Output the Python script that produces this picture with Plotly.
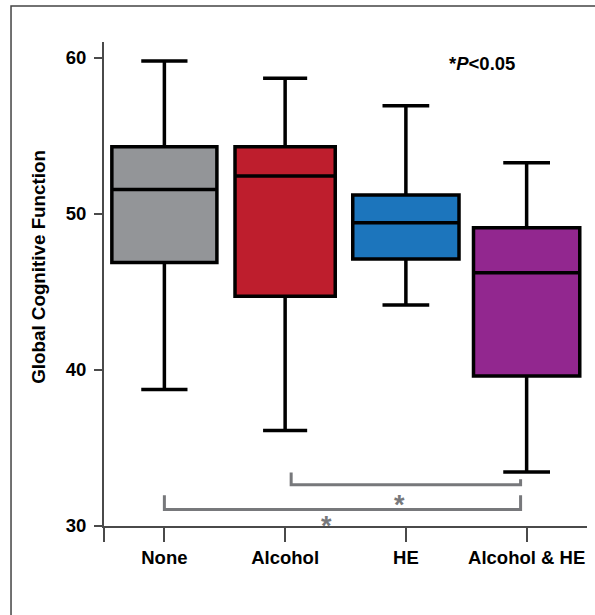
import plotly.graph_objects as go

# ---- data ----
categories = ["None", "Alcohol", "HE", "Alcohol & HE"]
lower_whisker = [38.74, 36.12, 44.15, 33.46]
q1_values = [46.88, 44.72, 47.10, 39.60]
medians = [51.56, 52.42, 49.42, 46.22]
q3_values = [54.29, 54.29, 51.20, 49.10]
upper_whisker = [59.79, 58.68, 56.92, 53.27]
box_colors = ["#939598", "#BE1E2D", "#1C75BC", "#92278F"]
box_widths = [0.87, 0.83, 0.88, 0.88]

y_ticks = [30, 40, 50, 60]

# significance brackets: (left x, right x, left arm top, right arm top, bar y, star x, star y)
brackets = [
    (1.05, 2.95, 33.42, 32.99, 32.65, 1.946, 31.71),
    (0.00, 2.95, 31.97, 31.97, 31.05, 1.344, 30.41),
]

FONT = "Liberation Sans, Arial, sans-serif"
AX = "#4a4a4a"
GREY = "#77787B"

fig = go.Figure()
for i, cat in enumerate(categories):
    fig.add_trace(go.Box(
        x=[i], q1=[q1_values[i]], median=[medians[i]], q3=[q3_values[i]],
        lowerfence=[lower_whisker[i]], upperfence=[upper_whisker[i]],
        name=cat, width=box_widths[i], whiskerwidth=0.44,
        fillcolor=box_colors[i], line=dict(color="#000000", width=3.5),
        boxpoints=False, hoverinfo="skip", showlegend=False,
    ))

shapes = []
annotations = []
for (xl, xr, ytl, ytr, yb, sx, sy) in brackets:
    shapes.append(dict(type="path", xref="x", yref="y",
                       path=f"M {xl},{ytl} L {xl},{yb} L {xr},{yb} L {xr},{ytr}",
                       line=dict(color=GREY, width=3)))
    annotations.append(dict(x=sx, y=sy, xref="x", yref="y", text="<b>*</b>",
                            showarrow=False, xanchor="center", yanchor="middle",
                            yshift=-6,
                            font=dict(family=FONT, size=27, color=GREY)))

# outer frame
shapes.append(dict(type="rect", xref="paper", yref="paper",
                   x0=-0.1925, y0=1.0744, x1=1.03, y1=-0.2,
                   line=dict(color="#444444", width=1.5), layer="below"))

annotations.append(dict(x=0.782, y=0.956, xref="paper", yref="paper",
                        xanchor="center", yanchor="middle",
                        text="<b>*<i>P</i>&lt;0.05</b>", showarrow=False,
                        font=dict(family=FONT, size=18.5, color="#000000")))
annotations.append(dict(x=-0.1346, y=0.5355, xref="paper", yref="paper",
                        xanchor="center", yanchor="middle",
                        text="<b>Global Cognitive Function</b>", textangle=-90,
                        showarrow=False,
                        font=dict(family=FONT, size=18.8, color="#000000")))

fig.update_layout(
    width=595, height=615,
    margin=dict(l=104, r=8, t=42, b=89, pad=0),
    paper_bgcolor="white", plot_bgcolor="white",
    shapes=shapes, annotations=annotations,
    font=dict(family=FONT, size=18, color="#000000"),
    boxmode="overlay",
)
fig.update_xaxes(
    range=[-0.5, 3.5], showgrid=False, zeroline=False,
    showline=True, linecolor=AX, linewidth=2,
    tickvals=[-0.5] + list(range(len(categories))),
    ticktext=[""] + [f"<b>{c}</b>" for c in categories],
    ticks="outside", ticklen=14, tickwidth=2, tickcolor=AX,
    ticklabelstandoff=0,
    tickfont=dict(family=FONT, size=18.5, color="#000000"),
)
fig.update_yaxes(
    range=[30, 61], showgrid=False, zeroline=False,
    showline=True, linecolor=AX, linewidth=2,
    tickvals=y_ticks, ticktext=[f"<b>{t}</b>" for t in y_ticks],
    ticks="outside", ticklen=8, tickwidth=2, tickcolor=AX,
    ticklabelstandoff=4,
    tickfont=dict(family=FONT, size=18.5, color="#000000"),
)

fig.write_html("out.html", config={"displayModeBar": False},
               post_script="document.body.style.margin='0';document.body.style.padding='0';")
